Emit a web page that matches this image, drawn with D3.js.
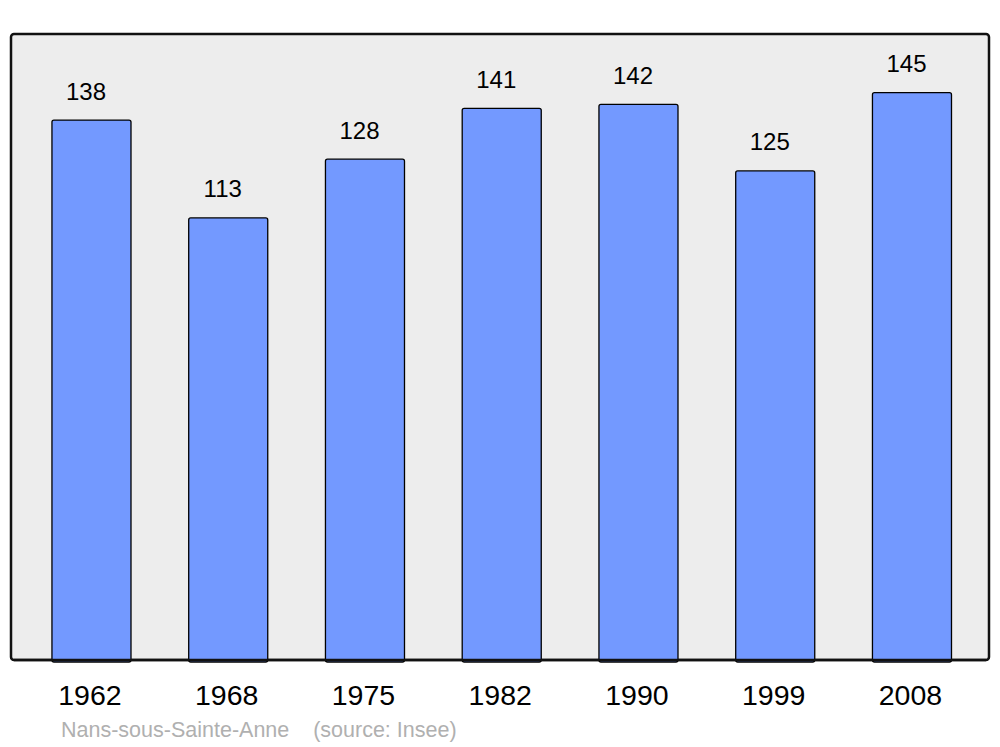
<!DOCTYPE html>
<html><head><meta charset="utf-8">
<script src="https://cdn.jsdelivr.net/npm/d3@7"></script>
<style>body{margin:0;background:#fff}svg{display:block}</style>
</head><body>
<svg id="c" width="1000" height="747"></svg>
<script>
const years = ["1962","1968","1975","1982","1990","1999","2008"];
const population = [138,113,128,141,142,125,145];
const sourceLabel = "Nans-sous-Sainte-Anne    (source: Insee)";

const svg = d3.select("#c");
const font = "'Liberation Sans', Arial, sans-serif";
const frame = {x0:11, y0:34, x1:989, y1:660};

svg.append("rect")
  .attr("x", frame.x0).attr("y", frame.y0)
  .attr("width", frame.x1-frame.x0).attr("height", frame.y1-frame.y0)
  .attr("rx", 3).attr("fill", "#ededed").attr("stroke", "#111").attr("stroke-width", 2.5);

const x = d3.scaleBand().domain(years).range([23.1, 980.35]).paddingInner(0.422).paddingOuter(0.211);
const y = d3.scaleLinear().domain([0,160]).range([frame.y1, frame.y0]);

svg.selectAll("rect.bar").data(years).enter().append("rect")
  .attr("class","bar")
  .attr("x", d => x(d)).attr("width", x.bandwidth())
  .attr("y", (d,i) => y(population[i]))
  .attr("height", (d,i) => y(0) - y(population[i]) + 2)
  .attr("rx", 2)
  .attr("fill", "#7399ff").attr("stroke", "#000").attr("stroke-width", 1.3);

svg.append("line").attr("x1", frame.x0 + 3).attr("x2", frame.x1 - 3)
  .attr("y1", frame.y1).attr("y2", frame.y1).attr("stroke","#111").attr("stroke-width",2.5);

svg.selectAll("text.val").data(years).enter().append("text")
  .attr("x", d => x(d) + x.bandwidth()/2 - 5.5)
  .attr("y", (d,i) => y(population[i]) - 20.5)
  .attr("text-anchor","middle").attr("font-family", font).attr("font-size", 24)
  .text((d,i) => population[i]);

const xAxis = d3.axisBottom(x).tickSize(0).tickPadding(0);
const ax = svg.append("g").attr("transform", `translate(0,${frame.y1})`).call(xAxis);
ax.select(".domain").remove();
ax.selectAll("text").attr("font-family", font).attr("font-size", 28.5).attr("fill","#000")
  .attr("dy", null).attr("y", 45).attr("dx", -1.5);

svg.append("text").attr("x", 61).attr("y", 737)
  .attr("font-family", font).attr("font-size", 21.5).attr("fill", "#b0b0b0")
  .attr("xml:space","preserve").style("white-space","pre")
  .text(sourceLabel);
</script>
</body></html>
